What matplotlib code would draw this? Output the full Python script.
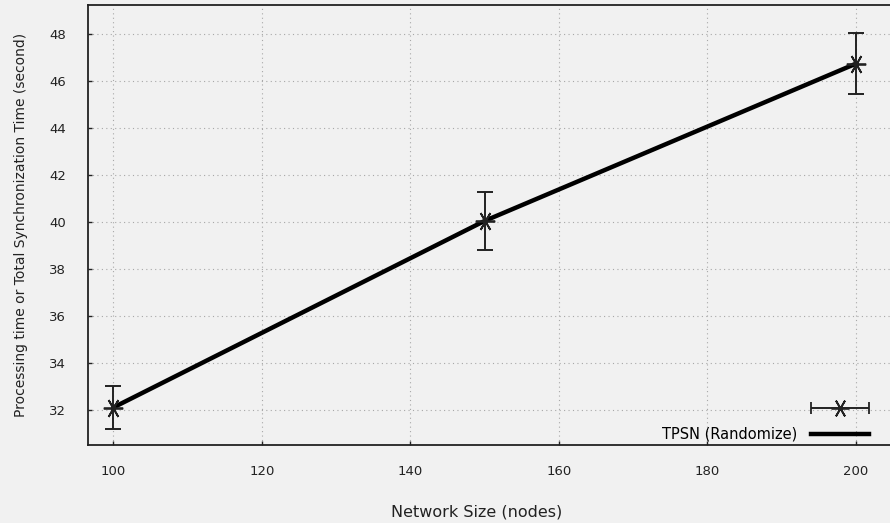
import numpy as np
import matplotlib.pyplot as plt
from matplotlib.lines import Line2D
from matplotlib.legend_handler import HandlerErrorbar

# data
network_size = [100, 150, 200]
sync_time = [32.1, 40.05, 46.75]
err_low = [0.9, 1.25, 1.3]
err_high = [0.9, 1.25, 1.3]
series_label = "TPSN (Randomize)"
x_ticks = [100, 120, 140, 160, 180, 200]
y_ticks = [32, 34, 36, 38, 40, 42, 44, 46, 48]

bg = '#f1f1f1'
ink = '#222222'
plt.rcParams['font.family'] = ['DejaVu Sans']

fig = plt.figure(figsize=(8.9, 5.23), dpi=100, facecolor=bg)
ax = fig.add_axes([0.0989, 0.149, 0.9011, 0.8414], facecolor=bg)

star = (6, 2, 90)
ax.plot(network_size, sync_time, color='black', lw=3.2, solid_capstyle='round',
        zorder=3)
ax.errorbar(network_size, sync_time, yerr=[err_low, err_high], fmt='none',
            ecolor=ink, elinewidth=1.4, capsize=6, capthick=1.4, zorder=4)
ax.plot(network_size, sync_time, ls='none', marker=star, ms=14, mew=1.3,
        color=ink, zorder=5)

ax.set_xlim(96.6, 204.6)
ax.set_ylim(30.5, 49.25)
ax.set_xticks(x_ticks)
ax.set_yticks(y_ticks)
ax.tick_params(direction='in', length=3, width=1, labelsize=9.5, colors=ink)
ax.tick_params(axis='x', pad=14)
ax.tick_params(axis='y', pad=16)
ax.grid(True, ls=(0, (1, 3)), color='#a8a8a8', lw=0.8)
ax.spines['right'].set_visible(False)
for s in ['left', 'top', 'bottom']:
    ax.spines[s].set_linewidth(1.3)
    ax.spines[s].set_color(ink)

ax.set_xlabel("Network Size (nodes)", fontsize=11.5, color=ink)
ax.xaxis.set_label_coords(0.484, -0.135)
ax.set_ylabel("Processing time or Total Synchronization Time (second)",
              fontsize=10, labelpad=15, color=ink)

# legend: horizontal error-bar symbol on the first row, thick line on the second
err_handle = ax.errorbar([np.nan], [np.nan], xerr=[1], ls='none', marker=star,
                         ms=13, mew=1.3, color=ink, ecolor=ink,
                         elinewidth=1.4, capsize=4, capthick=1.4)
line_handle = Line2D([], [], color='black', lw=3.2)
ax.legend([err_handle, line_handle], [" ", series_label], loc='lower right',
          bbox_to_anchor=(0.99, -0.022), frameon=False, markerfirst=False,
          fontsize=10.5, handlelength=4.0, labelspacing=0.75, handletextpad=0.9,
          handler_map={type(err_handle): HandlerErrorbar(xerr_size=2.0)})

fig.savefig("out.png", dpi=100, facecolor=bg)
